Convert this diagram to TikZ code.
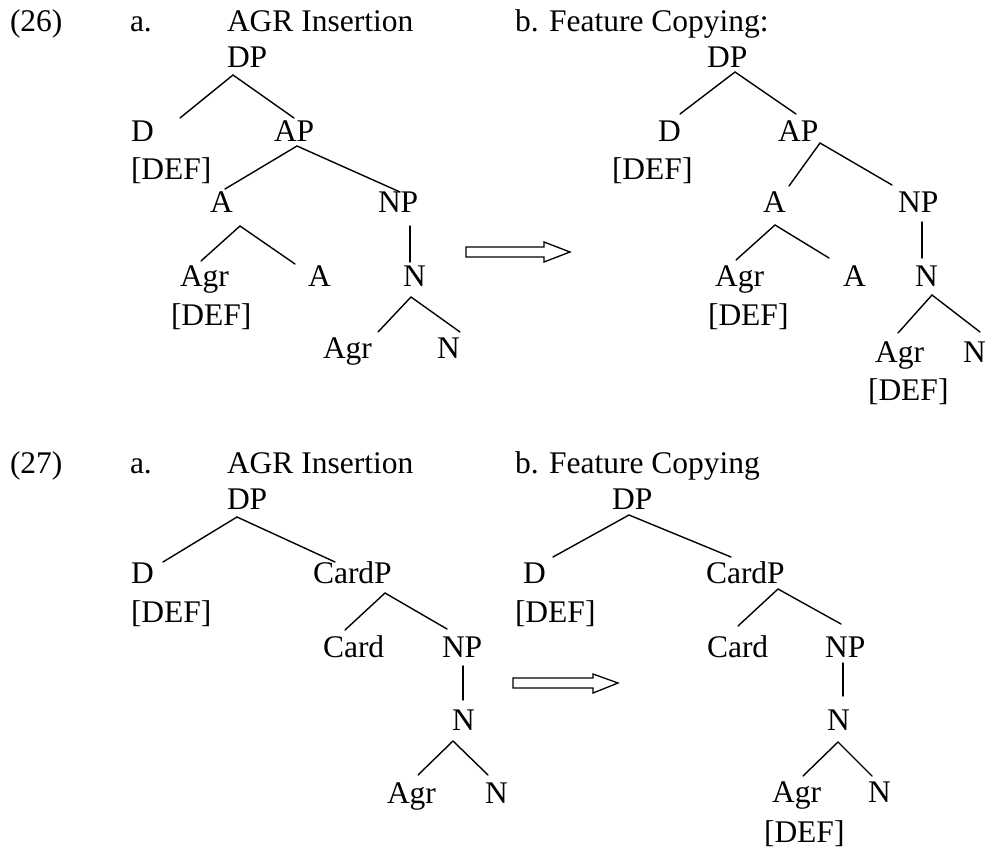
\documentclass[tikz,border=0pt]{standalone}
\usepackage{fontspec}
\setmainfont{Liberation Serif}
\begin{document}
\begin{tikzpicture}[x=1pt,y=-1pt,
  lbl/.style={anchor=base west,inner sep=0pt,outer sep=0pt,
    font=\fontsize{31.5}{37}\selectfont},
  branch/.style={line width=1.4pt,line cap=round},
  bigarrow/.style={line width=1.3pt,line join=miter,fill=white}]
\useasboundingbox (0,0) rectangle (987,850);

% ---------------- (26a) AGR Insertion ----------------
\node[lbl] (ex26)  at (10,32)  {(26)};
\node[lbl] (lab26a) at (130,32) {a.};
\node[lbl] (tit26a) at (227,32) {AGR Insertion};
\node[lbl] (dpA)   at (227,68)  {DP};
\node[lbl] (dA)    at (131,142) {D};
\node[lbl] (apA)   at (274,142) {AP};
\node[lbl] (dfA)   at (131,180) {[DEF]};
\node[lbl] (aA)    at (210,213) {A};
\node[lbl] (npA)   at (378,213) {NP};
\node[lbl] (agrA)  at (180,287) {Agr};
\node[lbl] (a2A)   at (308,287) {A};
\node[lbl] (nA)    at (403,287) {N};
\node[lbl] (dfagA) at (171,325) {[DEF]};
\node[lbl] (agnA)  at (323,358) {Agr};
\node[lbl] (n2A)   at (437,358) {N};

\coordinate (dpA-b) at (233,75);  \coordinate (dA-t) at (180,118); \coordinate (apA-t) at (294,118);
\coordinate (apA-b) at (297,146); \coordinate (aA-t) at (225,189); \coordinate (npA-t) at (400,192);
\coordinate (aA-b) at (240,226);  \coordinate (agrA-t) at (201,261); \coordinate (a2A-t) at (295,264);
\coordinate (npA-b) at (410,226); \coordinate (nA-t) at (410,262);
\coordinate (nA-b) at (411,297);  \coordinate (agnA-t) at (378,332); \coordinate (n2A-t) at (460,332);

\draw[branch] (dA-t) -- (dpA-b) -- (apA-t);
\draw[branch] (aA-t) -- (apA-b) -- (npA-t);
\draw[branch] (agrA-t) -- (aA-b) -- (a2A-t);
\draw[branch] (npA-b) -- (nA-t);
\draw[branch] (agnA-t) -- (nA-b) -- (n2A-t);

\draw[bigarrow] (466,247) -- (544,247) -- (544,242) -- (570,252) -- (544,262) -- (544,257) -- (466,257) -- cycle;

% ---------------- (26b) Feature Copying ----------------
\node[lbl] (tit26b) at (515,32) {b. Feature Copying:};
\node[lbl] (dpB)   at (707,68)  {DP};
\node[lbl] (dB)    at (658,142) {D};
\node[lbl] (apB)   at (778,142) {AP};
\node[lbl] (dfB)   at (612,180) {[DEF]};
\node[lbl] (aB)    at (763,213) {A};
\node[lbl] (npB)   at (898,213) {NP};
\node[lbl] (agrB)  at (715,287) {Agr};
\node[lbl] (dfagB) at (708,325) {[DEF]};
\node[lbl] (a2B)   at (843,287) {A};
\node[lbl] (nB)    at (915,287) {N};
\node[lbl] (agnB)  at (875,362) {Agr};
\node[lbl] (n2B)   at (963,362) {N};
\node[lbl] (dfanB) at (868,400) {[DEF]};

\coordinate (dpB-b) at (735,72);  \coordinate (dB-t) at (680,114); \coordinate (apB-t) at (796,114);
\coordinate (apB-b) at (820,143); \coordinate (aB-t) at (789,186); \coordinate (npB-t) at (892,185);
\coordinate (aB-b) at (775,225);  \coordinate (agrB-t) at (736,260); \coordinate (a2B-t) at (829,258);
\coordinate (npB-b) at (922,222); \coordinate (nB-t) at (922,258);
\coordinate (nB-b) at (932,295);  \coordinate (agnB-t) at (898,333); \coordinate (n2B-t) at (980,332);

\draw[branch] (dB-t) -- (dpB-b) -- (apB-t);
\draw[branch] (aB-t) -- (apB-b) -- (npB-t);
\draw[branch] (agrB-t) -- (aB-b) -- (a2B-t);
\draw[branch] (npB-b) -- (nB-t);
\draw[branch] (agnB-t) -- (nB-b) -- (n2B-t);

% ---------------- (27a) AGR Insertion ----------------
\node[lbl] (ex27)  at (10,473)  {(27)};
\node[lbl] (lab27a) at (130,473) {a.};
\node[lbl] (tit27a) at (227,473) {AGR Insertion};
\node[lbl] (dpC)   at (227,509) {DP};
\node[lbl] (dC)    at (131,583) {D};
\node[lbl] (cpC)   at (313,583) {CardP};
\node[lbl] (dfC)   at (131,622) {[DEF]};
\node[lbl] (cdC)   at (323,657) {Card};
\node[lbl] (npC)   at (442,657) {NP};
\node[lbl] (nC)    at (452,730) {N};
\node[lbl] (agnC)  at (387,803) {Agr};
\node[lbl] (n2C)   at (485,803) {N};

\coordinate (dpC-b) at (237,517); \coordinate (dC-t) at (163,562); \coordinate (cpC-t) at (335,562);
\coordinate (cpC-b) at (385,593); \coordinate (cdC-t) at (345,630); \coordinate (npC-t) at (447,629);
\coordinate (npC-b) at (463,666); \coordinate (nC-t) at (463,700);
\coordinate (nC-b) at (453,741);  \coordinate (agnC-t) at (418,775); \coordinate (n2C-t) at (488,775);

\draw[branch] (dC-t) -- (dpC-b) -- (cpC-t);
\draw[branch] (cdC-t) -- (cpC-b) -- (npC-t);
\draw[branch] (npC-b) -- (nC-t);
\draw[branch] (agnC-t) -- (nC-b) -- (n2C-t);

\draw[bigarrow] (513,678) -- (593,678) -- (593,674) -- (618,683) -- (593,693) -- (593,688) -- (513,688) -- cycle;

% ---------------- (27b) Feature Copying ----------------
\node[lbl] (tit27b) at (515,473) {b. Feature Copying};
\node[lbl] (dpD)   at (612,509) {DP};
\node[lbl] (dD)    at (523,583) {D};
\node[lbl] (dfD)   at (515,622) {[DEF]};
\node[lbl] (cpD)   at (706,583) {CardP};
\node[lbl] (cdD)   at (707,657) {Card};
\node[lbl] (npD)   at (825,657) {NP};
\node[lbl] (nD)    at (827,730) {N};
\node[lbl] (agnD)  at (772,802) {Agr};
\node[lbl] (n2D)   at (868,802) {N};
\node[lbl] (dfanD) at (764,842) {[DEF]};

\coordinate (dpD-b) at (629,515); \coordinate (dD-t) at (553,557); \coordinate (cpD-t) at (731,557);
\coordinate (cpD-b) at (778,589); \coordinate (cdD-t) at (738,626); \coordinate (npD-t) at (841,624);
\coordinate (npD-b) at (843,663); \coordinate (nD-t) at (843,696);
\coordinate (nD-b) at (838,742);  \coordinate (agnD-t) at (803,776); \coordinate (n2D-t) at (872,776);

\draw[branch] (dD-t) -- (dpD-b) -- (cpD-t);
\draw[branch] (cdD-t) -- (cpD-b) -- (npD-t);
\draw[branch] (npD-b) -- (nD-t);
\draw[branch] (agnD-t) -- (nD-b) -- (n2D-t);
\end{tikzpicture}
\end{document}
